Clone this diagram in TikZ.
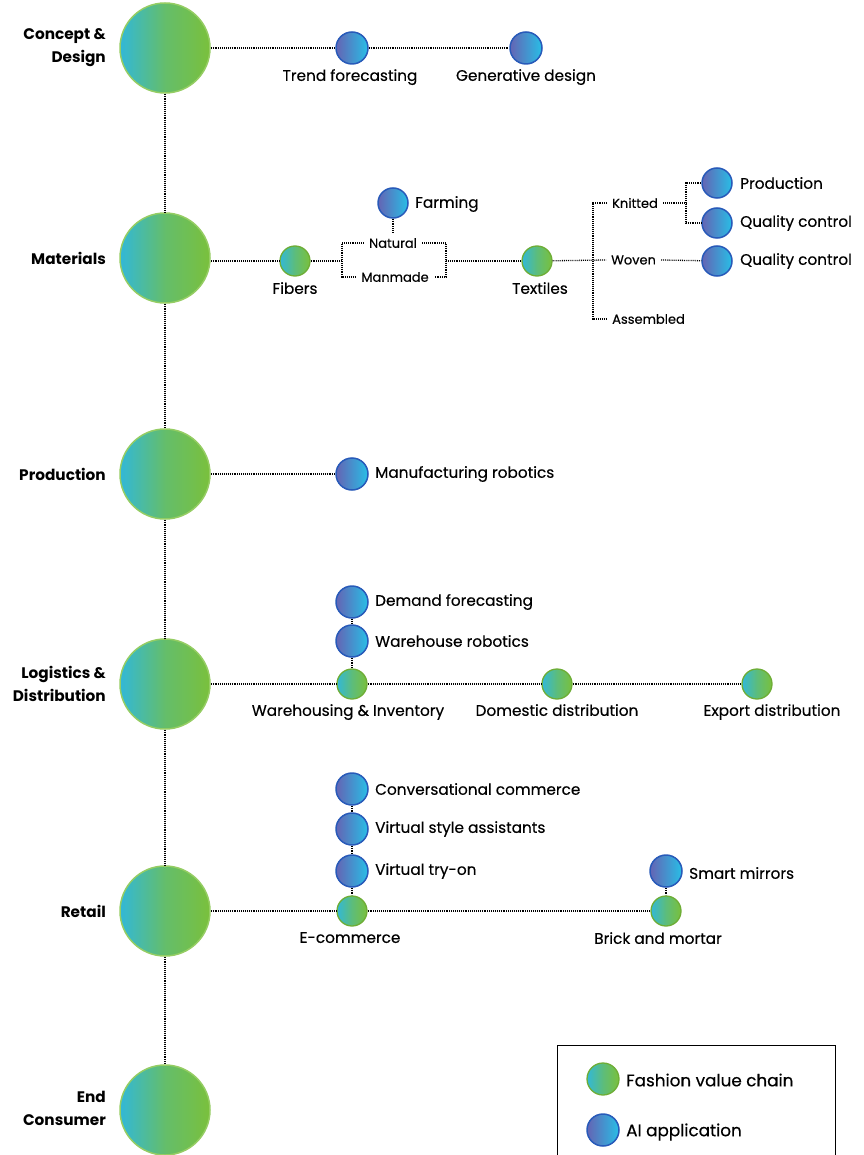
\documentclass[tikz,border=0pt]{standalone}
\usepackage{fontspec}
\setmainfont{Poppins}
\newfontfamily\medfont{Poppins}[FakeBold=0.35]
\begin{document}
\begin{tikzpicture}[x=1pt,y=-1pt,
  conn/.style={line width=1.3pt, dash pattern=on 0.9pt off 1pt, black},
  big/.style={circle, inner sep=0pt, minimum size=90pt, draw=vgreen!80!white, line width=1.5pt, left color=vcyan, right color=vgreen, middle color=vgreen!70!vcyan},
  gc/.style={circle, inner sep=0pt, minimum size=30pt, draw=vgreen!90!black, line width=1.3pt, left color=vcyan, right color=vgreen, middle color=vgreen!60!vcyan},
  bc/.style={circle, inner sep=0pt, minimum size=32pt, draw=vblueb, line width=1.5pt, left color=vpurple, right color=vsky, middle color=vpurple!50!vsky},
  lab/.style={font=\medfont\fontsize{15.3}{17}\selectfont, inner sep=1pt},
  sml/.style={font=\medfont\fontsize{13}{14}\selectfont, inner sep=5pt},
  main/.style={font=\fontsize{15.3}{23}\selectfont\bfseries, align=right, anchor=east, inner sep=0pt},
  leg/.style={font=\medfont\fontsize{16.8}{19}\selectfont, anchor=west, inner sep=0pt}
]
\definecolor{vgreen}{RGB}{122,192,60}
\definecolor{vcyan}{RGB}{50,184,215}
\definecolor{vpurple}{RGB}{100,100,180}
\definecolor{vsky}{RGB}{40,190,230}
\definecolor{vblueb}{RGB}{40,90,185}
\useasboundingbox (0,0) rectangle (863,1155);
\clip (0,0) rectangle (863,1155);

% main column
\node[big] (c1) at (165,48) {};
\node[big] (c2) at (165,258) {};
\node[big] (c3) at (165,474) {};
\node[big] (c4) at (165,684) {};
\node[big] (c5) at (165,911) {};
\node[big] (c6) at (165,1110) {};
\draw[conn] (c1) -- (c2);
\draw[conn] (c2) -- (c3);
\draw[conn] (c3) -- (c4);
\draw[conn] (c4) -- (c5);
\draw[conn] (c5) -- (c6);

\node[main] (l1) at (106,48) {Concept \&\\Design};
\node[main] (l2) at (106,258) {Materials};
\node[main] (l3) at (106,474) {Production};
\node[main] (l4) at (106,684) {Logistics \&\\Distribution};
\node[main] (l5) at (106,911) {Retail};
\node[main] (l6) at (106,1108) {End\\Consumer};

% Concept & Design
\node[bc] (tf) at (352,48) {};
\node[bc] (gd) at (526,48) {};
\draw[conn] (c1) -- (tf);
\draw[conn] (tf) -- (gd);
\node[lab, anchor=north] (tfl) at (350,68) {Trend forecasting};
\node[lab, anchor=north] (gdl) at (526,68) {Generative design};

% Materials
\node[gc] (fib) at (295,261) {};
\draw[conn] (c2.east |- fib) -- (fib);
\node[lab, anchor=north] (fibl) at (295,281) {Fibers};
\node[sml] (nat) at (393,243) {Natural};
\node[sml] (man) at (395,277) {Manmade};
\coordinate (bl) at (342,261);
\coordinate (br) at (446,261);
\draw[conn] (fib) -- (bl);
\draw[conn] (nat.west) -| (bl) |- (man.west);
\draw[conn] (nat.east) -| (br) |- (man.east);
\node[bc, minimum size=30pt] (farm) at (393,203) {};
\node[lab, anchor=west] (farml) at (414,204) {Farming};
\draw[conn] (farm) -- (nat);
\node[gc] (tex) at (537,261) {};
\node[lab, anchor=north] (texl) at (540,281) {Textiles};
\draw[conn] (br) -- (tex);
\node[sml, anchor=west] (knit) at (607,203) {Knitted};
\node[sml, anchor=west] (wov) at (606,260) {Woven};
\node[sml, anchor=west] (asm) at (607,319) {Assembled};
\coordinate (tj) at (593,261);
\draw[conn] (tex) -- (wov.west);
\draw[conn] (knit.west) -| (tj) |- (asm.west);
\coordinate (kj) at (686,203);
\node[bc, minimum size=30pt] (pr) at (717,183) {};
\node[bc, minimum size=30pt] (qc1) at (717,223) {};
\node[bc, minimum size=30pt] (qc2) at (717,261) {};
\draw[conn] (knit.east) -- (kj);
\draw[conn] (pr) -| (kj) |- (qc1);
\draw[conn] (wov.east) -- (qc2);
\node[lab, anchor=west] (prl) at (739,183) {Production};
\node[lab, anchor=west] (qc1l) at (739,223) {Quality control};
\node[lab, anchor=west] (qc2l) at (739,261) {Quality control};

% Production
\node[bc] (mr) at (352,474) {};
\draw[conn] (c3) -- (mr);
\node[lab, anchor=west] (mrl) at (374,474) {Manufacturing robotics};

% Logistics
\node[bc] (df) at (352,602) {};
\node[bc] (wr) at (352,641) {};
\node[gc] (wi) at (352,684) {};
\node[gc] (dd) at (557,684) {};
\node[gc] (ed) at (757,684) {};
\draw[conn] (df) -- (wr);
\draw[conn] (wr) -- (wi);
\draw[conn] (c4) -- (wi);
\draw[conn] (wi) -- (dd);
\draw[conn] (dd) -- (ed);
\node[lab, anchor=west] (dfl) at (374,602) {Demand forecasting};
\node[lab, anchor=west] (wrl) at (374,641) {Warehouse robotics};
\node[lab, anchor=north] (wil) at (348,703) {Warehousing \& Inventory};
\node[lab, anchor=north] (ddl) at (557,703) {Domestic distribution};
\node[lab, anchor=north] (edl) at (772,703) {Export distribution};

% Retail
\node[bc] (cc) at (352,789) {};
\node[bc] (vs) at (352,829) {};
\node[bc] (vt) at (352,871) {};
\node[gc] (ec) at (352,911) {};
\node[bc] (sm) at (666,871) {};
\node[gc] (bm) at (666,911) {};
\draw[conn] (cc) -- (vs);
\draw[conn] (vs) -- (vt);
\draw[conn] (vt) -- (ec);
\draw[conn] (c5) -- (ec);
\draw[conn] (ec) -- (bm);
\draw[conn] (sm) -- (bm);
\node[lab, anchor=west] (ccl) at (374,789) {Conversational commerce};
\node[lab, anchor=west] (vsl) at (374,829) {Virtual style assistants};
\node[lab, anchor=west] (vtl) at (374,871) {Virtual try-on};
\node[lab, anchor=west] (sml) at (688,873) {Smart mirrors};
\node[lab, anchor=north] (ecl) at (350,931) {E-commerce};
\node[lab, anchor=north] (bml) at (658,931) {Brick and mortar};

% Legend
\node[draw=black, line width=1.2pt, minimum width=278pt, minimum height=130pt, anchor=north west, inner sep=0pt] (legbox) at (557,1045) {};
\node[gc, minimum size=32pt] (lg1) at (603,1079) {};
\node[bc] (lg2) at (603,1130) {};
\node[leg] (lg1l) at (626,1080) {Fashion value chain};
\node[leg] (lg2l) at (626,1132) {AI application};
\end{tikzpicture}
\end{document}
